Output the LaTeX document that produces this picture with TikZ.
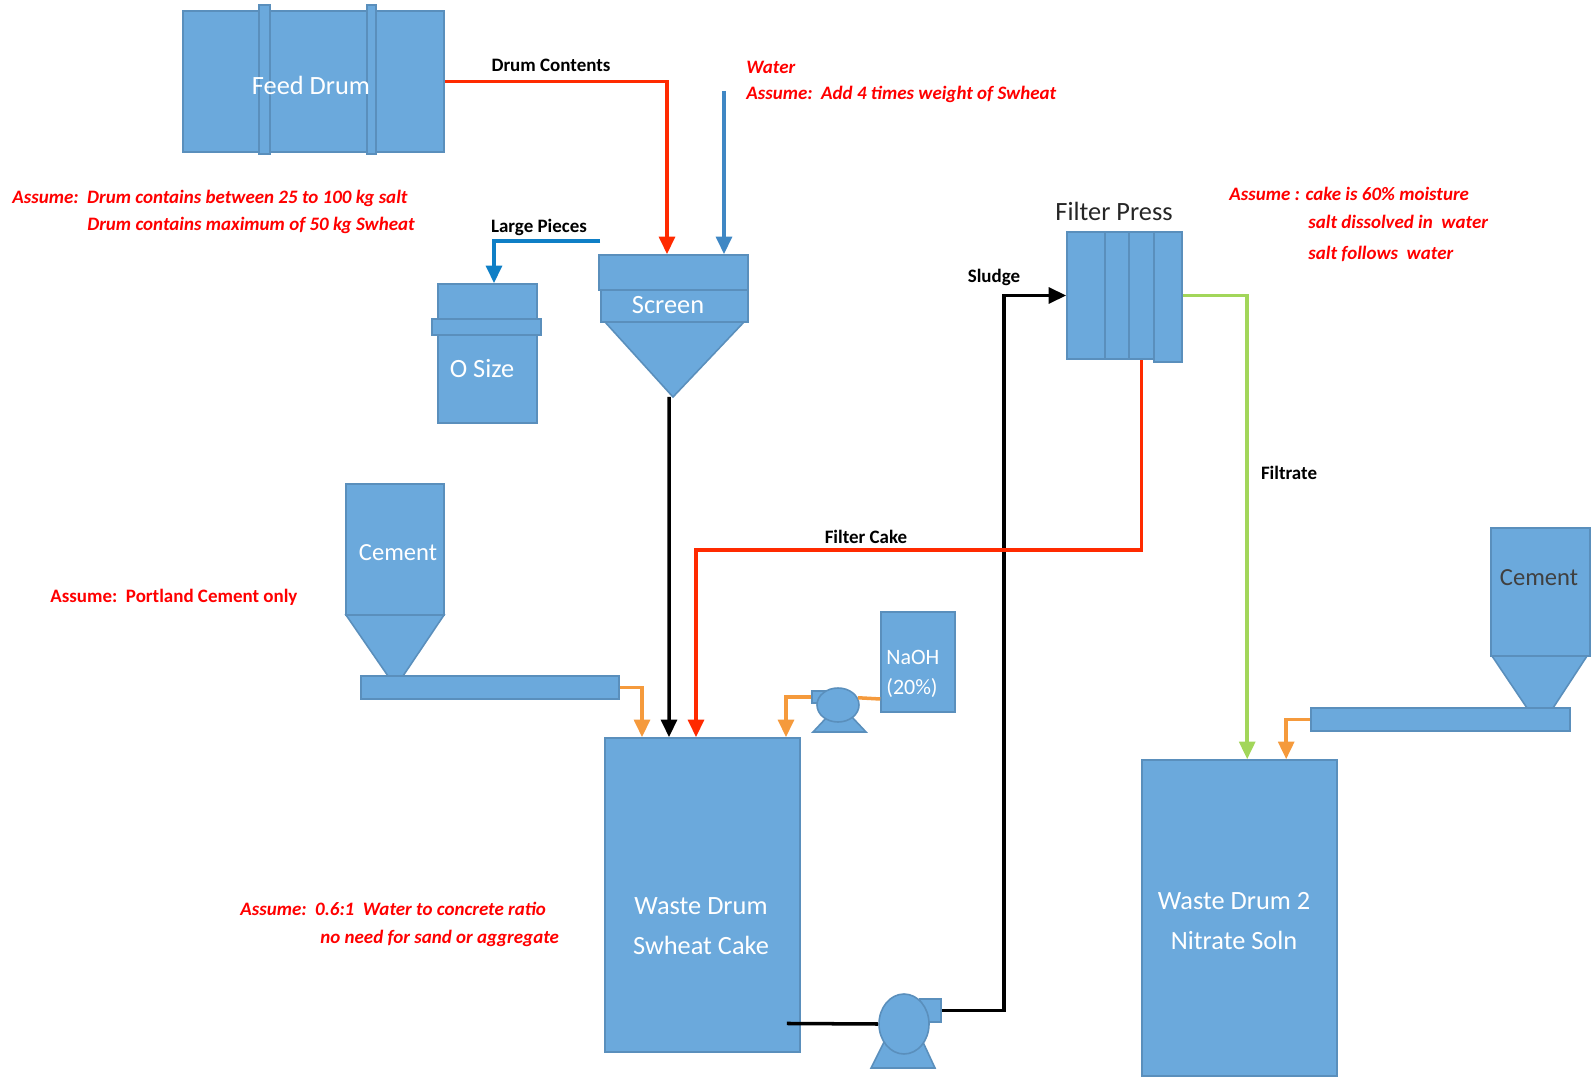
\documentclass[tikz,border=0pt]{standalone}
\usepackage{fontspec}
\setmainfont{Carlito}
\usepackage{xcolor}
\usetikzlibrary{arrows.meta,shapes.geometric}

\definecolor{unitfill}{HTML}{6BA9DC}
\definecolor{unitline}{HTML}{5A8FBC}
\definecolor{flowred}{HTML}{FF2A00}
\definecolor{flowblue}{HTML}{3F87C4}
\definecolor{flowdeep}{HTML}{0F7FC6}
\definecolor{flowgreen}{HTML}{A2D65A}
\definecolor{floworange}{HTML}{F59A3C}

\tikzset{
    unit/.style={draw=unitline, fill=unitfill, line width=0.9pt, inner sep=0pt},
    box/.style 2 args={unit, minimum width=#1*0.02cm, minimum height=#2*0.02cm},
    tag/.style={text=white, inner sep=0pt, font=\fontsize{15}{22.5}\selectfont, align=center},
    smalltag/.style={text=white, inner sep=0pt, font=\fontsize{14}{17}\selectfont, align=left},
    flowname/.style={inner sep=0pt, font=\fontsize{10.8}{13}\selectfont\bfseries},
    note/.style={text=red, anchor=west, inner sep=0pt, font=\fontsize{10.8}{13}\selectfont\bfseries\itshape},
    flow/.style={line width=2pt, -{Triangle[width=9pt,length=10pt]}},
    plainflow/.style={line width=2pt}
}

\begin{document}
\begin{tikzpicture}[x=0.02cm,y=-0.02cm]
    \useasboundingbox (0,0) rectangle (1591,1077);

    % feed drum
    \node[box={261}{141}] (drum) at (313.5,81.5) {};
    \node[box={11}{149}] (banda) at (264.5,79.5) {};
    \node[box={9}{149}] (bandb) at (371.5,79.5) {};
    \node[tag] (drumlabel) at (311,85) {Feed Drum};

    % screen
    \filldraw[unit] (605,322) -- (744,322) -- (673,397) -- cycle;
    \coordinate (screentip) at (673,397);
    \node[box={149}{35}] (screentop) at (673.5,272.5) {};
    \node[box={147}{32}] (screenmid) at (674.5,306) {};
    \node[tag] (screenlabel) at (668,305) {Screen};

    % oversize drum
    \node[box={99}{139}] (osize) at (487.5,353.5) {};
    \node[box={109}{16}] (osizeband) at (486.5,327) {};
    \node[tag] (osizelabel) at (482,369) {O Size};

    % cement hoppers and conveyors
    \filldraw[unit] (346,615) -- (444,615) -- (403,676) -- (388,676) -- cycle;
    \node[box={98}{131}] (cementa) at (395,549.5) {};
    \node[smalltag] (cementalabel) at (398,553) {Cement};
    \node[box={258}{23}] (belta) at (490,687.5) {};

    \filldraw[unit] (1492,656) -- (1587,656) -- (1553,708) -- (1527,708) -- cycle;
    \node[box={99}{128}] (cementb) at (1540.5,592) {};
    \node[smalltag, text=black!75] (cementblabel) at (1539,578) {Cement};
    \node[box={259}{23}] (beltb) at (1440.5,719.5) {};

    % waste drums
    \node[box={195}{314}] (wastea) at (702.5,895) {};
    \node[tag] (wastealabel) at (701,926) {Waste Drum\\Swheat Cake};
    \node[box={195}{316}] (wasteb) at (1239.5,918) {};
    \node[tag] (wasteblabel) at (1234,921) {Waste Drum 2\\Nitrate Soln};

    % naoh tank and pumps
    \node[box={74}{100}] (naoh) at (918,662) {};
    \node[smalltag, anchor=west, font=\fontsize{12.5}{17}\selectfont] (naohlabel) at (886,674) {NaOH\\(20\%)};

    \filldraw[unit] (813,732) -- (866,732) -- (851,716) -- (828,716) -- cycle;
    \node[box={15}{12}] (pumpaout) at (819.5,697) {};
    \node[unit, ellipse, minimum width=42*0.02cm, minimum height=34*0.02cm] (pumpa) at (838,705) {};

    \filldraw[unit] (871,1068) -- (935,1068) -- (922,1040) -- (885,1040) -- cycle;
    \node[box={21}{23}] (pumpbout) at (930.5,1010.5) {};
    \node[unit, ellipse, minimum width=50*0.02cm, minimum height=60*0.02cm] (pumpb) at (904,1024) {};

    % filter press
    \node[box={38}{127}] (pressa) at (1086,295.5) {};
    \node[box={24}{127}] (pressb) at (1117,295.5) {};
    \node[box={25}{127}, line width=1.4pt] (pressc) at (1141.5,295.5) {};
    \node[box={28}{130}] (pressd) at (1168,297) {};
    \node[inner sep=0pt, font=\fontsize{15}{17}\selectfont, text=black!85] (presslabel) at (1114,211) {Filter Press};

    % streams
    \coordinate (waterin) at (724,91);
    \coordinate (piecesout) at (600,241);
    \draw[flow, flowred] (drum.east) -| ([xshift=-0.13cm]screentop.north);
    \draw[flow, flowblue] (waterin) -- (screentop.north -| waterin);
    \draw[flow, flowdeep] (piecesout) -| ([xshift=0.13cm]osize.north);
    \draw[flow, black] ([xshift=-0.08cm]screentip) -- ([xshift=-0.67cm]wastea.north);
    \draw[flow, floworange] (belta.east) -| ([xshift=-1.21cm]wastea.north);
    \draw[flow, floworange] (pumpaout.west) -| ([xshift=1.67cm]wastea.north);
    \draw[plainflow, floworange] ([yshift=-0.74cm]naoh.west) -- (pumpa.20);
    \draw[flow, floworange] (beltb.west) -| ([xshift=2.9cm]wasteb.north west);
    \draw[flow, flowgreen] (pressd.east |- pressa.east) -| ([xshift=2.12cm]wasteb.north west);
    \draw[plainflow, black] ([shift={(-0.28cm,-2.57cm)}]wastea.east) -- (pumpb.west);
    \draw[flow, black] (pumpbout.east) -- ++(62,0) |- (pressa.west);
    \draw[flow, flowred] (pressc.south) -- ++(0,190) -| ([xshift=-0.13cm]wastea.north);

    % stream names
    \node[flowname] (namedrum) at (551,65) {Drum Contents};
    \node[flowname] (namepieces) at (539,227) {Large Pieces};
    \node[flowname] (namesludge) at (994,277) {Sludge};
    \node[flowname] (namefiltrate) at (1289,473) {Filtrate};
    \node[flowname] (namecake) at (866,537) {Filter Cake};

    % assumptions
    \node[note] (notewater) at (746,67) {Water};
    \node[note] (notewaterb) at (746,94) {Assume:~~Add 4 times weight of Swheat};
    \node[note] (notedrum) at (12,198) {Assume:~~Drum contains between 25 to 100 kg salt};
    \node[note] (notedrumb) at (87,225) {Drum contains maximum of 50 kg Swheat};
    \node[note] (notecake) at (1229,194) {Assume : cake is 60\% moisture};
    \node[note] (notecakeb) at (1308,222) {salt dissolved in~~water};
    \node[note] (notecakec) at (1308,254) {salt follows~~water};
    \node[note, font=\fontsize{10.8}{13}\selectfont\bfseries] (notecement) at (50,597) {Assume:~~Portland Cement only};
    \node[note] (noteratio) at (240,909) {Assume:~~0.6:1~~Water to concrete ratio};
    \node[note] (noteratiob) at (320,938) {no need for sand or aggregate};
\end{tikzpicture}
\end{document}
